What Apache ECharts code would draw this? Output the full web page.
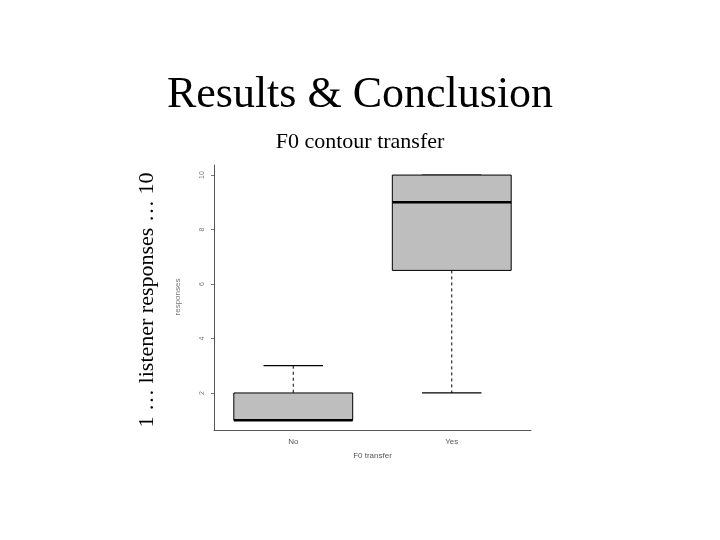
<!DOCTYPE html>
<html><head><meta charset="utf-8">
<script src="https://cdn.jsdelivr.net/npm/echarts@6/dist/echarts.min.js"></script>
<style>html,body{margin:0;background:#fff}#c{width:720px;height:540px}</style>
</head><body><div id="c"></div>
<script>
const categories = ['No', 'Yes'];
// [lowWhisker, Q1, median, Q3, highWhisker]
const boxes = [[1, 1, 1, 2, 3], [2, 6.5, 9, 10, 10]];
const outliers = [[0, 4], [0, 5], [0, 8], [1, 1]];
const yTicks = [2, 4, 6, 8, 10];

const chart = echarts.init(document.getElementById('c'));
chart.setOption({
  animation: false,
  title: [
    { text: 'Results & Conclusion', left: 'center', top: 68,
      textStyle: { fontFamily: 'Liberation Serif', fontSize: 44, fontWeight: 'normal', color: '#000' } },
    { text: 'F0 contour transfer', left: 'center', top: 126,
      textStyle: { fontFamily: 'Liberation Serif', fontSize: 22, fontWeight: 'normal', color: '#000' } }
  ],
  graphic: [{
    type: 'text', x: 136, y: 300, rotation: Math.PI / 2, origin: [0, 0],
    style: { text: '1 … listener responses … 10', font: '22px "Liberation Serif"', fill: '#000',
      textAlign: 'center', textVerticalAlign: 'top' }
  }, {
    type: 'text', x: 178, y: 297, rotation: Math.PI / 2,
    style: { text: 'responses', font: '8px "Liberation Sans"', fill: '#777', textAlign: 'center', textVerticalAlign: 'middle' }
  }],
  grid: { left: 214, right: 189, top: 165, bottom: 110 },
  xAxis: {
    type: 'category', data: categories, name: 'F0 transfer', nameLocation: 'middle', nameGap: 22,
    nameTextStyle: { fontSize: 8, color: '#555', fontFamily: 'Liberation Sans' },
    axisLine: { lineStyle: { color: '#555' } },
    axisTick: { alignWithLabel: true, length: 3, lineStyle: { color: '#555' } },
    axisLabel: { fontSize: 8, color: '#555', margin: 8 }
  },
  yAxis: {
    type: 'value', min: 0.64, max: 10.37,
    customValues: yTicks,
    axisLabel: { customValues: yTicks, rotate: 90, fontSize: 7, color: '#777', margin: 8 },
    axisTick: { customValues: yTicks, show: true, length: 3, lineStyle: { color: '#777' } },
    axisLine: { show: true, lineStyle: { color: '#555' } },
    splitLine: { show: false }
  },
  series: [{
    type: 'custom',
    data: boxes.map((b, i) => [i].concat(b)),
    renderItem: (params, api) => {
      const i = api.value(0);
      const bw = api.size([1, 0])[0] * 0.75;
      const p = k => api.coord([i, api.value(k)]);
      const lo = p(1), q1 = p(2), med = p(3), q3 = p(4), hi = p(5);
      const x = lo[0], cap = bw / 2;
      const ln = (x1, y1, x2, y2, w, dash) => ({ type: 'line', shape: { x1, y1, x2, y2 },
        style: { stroke: '#000', lineWidth: w, lineDash: dash || null } });
      return { type: 'group', children: [
        ln(x, hi[1], x, q3[1], 1, [3, 3]),
        ln(x, q1[1], x, lo[1], 1, [3, 3]),
        ln(x - cap / 2, hi[1], x + cap / 2, hi[1], 1.2),
        ln(x - cap / 2, lo[1], x + cap / 2, lo[1], 1.2),
        { type: 'rect', shape: { x: x - bw / 2, y: q3[1], width: bw, height: q1[1] - q3[1] },
          style: { fill: '#bebebe', stroke: '#000', lineWidth: 1 } },
        ln(x - bw / 2, med[1], x + bw / 2, med[1], 2.5)
      ]};
    }
  }, {
    type: 'scatter', data: outliers, symbol: 'emptyCircle', symbolSize: 3,
    itemStyle: { color: '#fff', borderColor: '#333', borderWidth: 0.8 }
  }]
});
</script></body></html>
